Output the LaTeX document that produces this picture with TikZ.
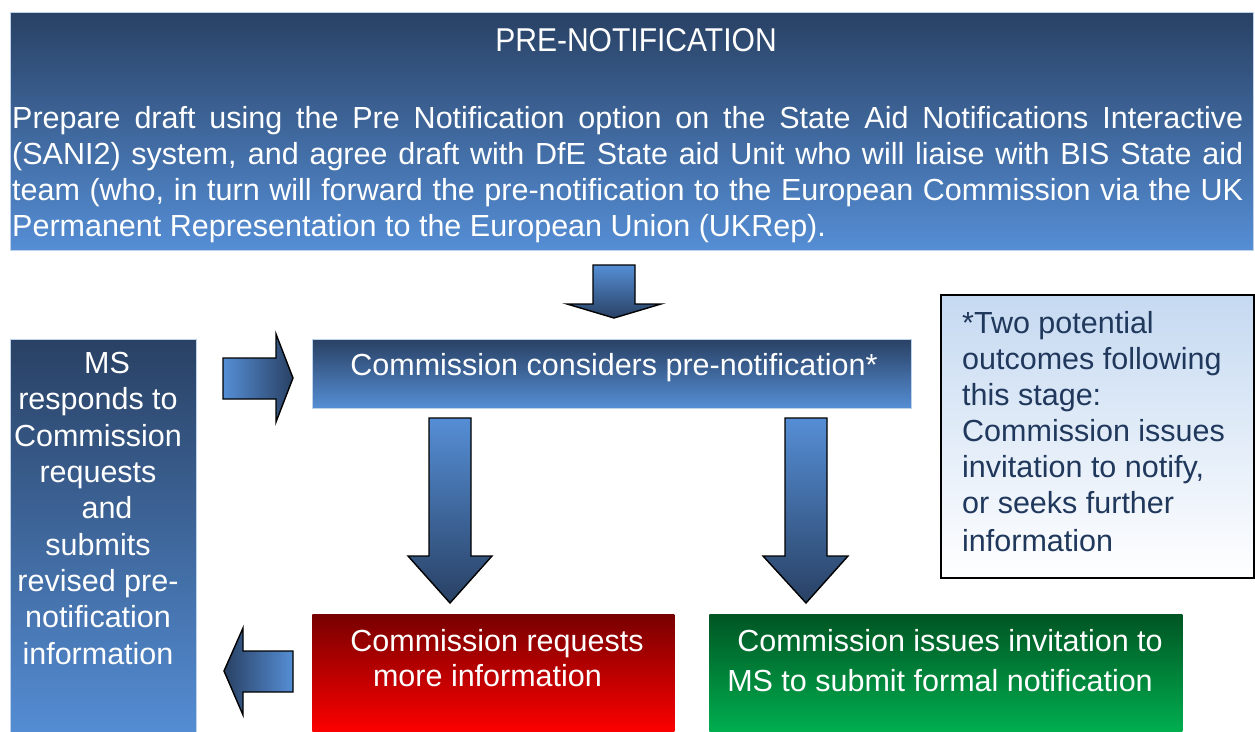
\documentclass[tikz,border=0pt]{standalone}
\usepackage{fontspec}
\setmainfont{Liberation Sans}
\newfontfamily\titlefont{Liberation Sans}[FakeStretch=0.91]
\definecolor{dkblue}{RGB}{41,65,100}
\definecolor{ltblue}{RGB}{85,142,213}
\definecolor{edgeblue}{RGB}{190,210,235}
\definecolor{dkred}{RGB}{120,0,0}
\definecolor{brred}{RGB}{255,0,0}
\definecolor{dkgreen}{RGB}{0,85,35}
\definecolor{brgreen}{RGB}{0,176,80}
\definecolor{paleblue}{RGB}{197,217,241}
\definecolor{notetext}{RGB}{31,56,92}
\tikzset{
  boxbase/.style={rectangle, anchor=north west, inner sep=0pt, draw=edgeblue, line width=0.6pt},
  bluebox/.style={boxbase, top color=dkblue, bottom color=ltblue},
  redbox/.style={boxbase, draw=none, top color=dkred, bottom color=brred},
  greenbox/.style={boxbase, draw=none, top color=dkgreen, bottom color=brgreen},
  notebox/.style={rectangle, anchor=north west, inner sep=0pt, draw=black, line width=1.8pt, top color=paleblue, bottom color=white},
  txt/.style={text=white, font=\fontsize{30.5}{36}\selectfont, inner sep=0pt},
  blockarrow/.style={draw=black, line width=1.4pt, line join=miter},
}
\begin{document}
\begin{tikzpicture}[x=1pt,y=-1pt]
\useasboundingbox (0,0) rectangle (1255,731);
% boxes
\node[bluebox, minimum width=1243pt, minimum height=238pt] (top) at (10,12) {};
\node[bluebox, minimum width=599pt, minimum height=69pt] (cons) at (312,339) {};
\node[bluebox, minimum width=186pt, minimum height=400pt] (ms) at (10,339) {};
\node[notebox, minimum width=313pt, minimum height=283pt] (note) at (940,294) {};
\node[redbox, minimum width=362pt, minimum height=120pt] (req) at (312,614) {};
\node[greenbox, minimum width=473pt, minimum height=120pt] (inv) at (709,614) {};
% texts (base anchor of multi-line nodes = baseline of last line)
\node[txt, anchor=base, font=\titlefont\fontsize{33}{36}\selectfont] (title) at (636,51) {PRE-NOTIFICATION};
\node[txt, anchor=base west, text width=1231pt, align=justify] (para) at (12,128)
 {Prepare draft using the Pre Notification option on the State Aid Notifications Interactive\linebreak
  (SANI2) system, and agree draft with DfE State aid Unit who will liaise with BIS State aid\linebreak
  team (who, in turn will forward the pre-notification to the European Commission via the UK\linebreak
  Permanent Representation to the European Union (UKRep).};
\node[txt, anchor=base] (constxt) at (614,375) {Commission considers pre-notification*};
\node[txt, anchor=base, align=center, font=\fontsize{30.5}{36.3}\selectfont] (mstxt) at (98,664)
 {\hspace*{18pt}MS\\responds to\\Commission\\requests\\\hspace*{18pt}and\\submits\\revised pre-\\notification\\information};
\node[txt, anchor=base west, align=left, text=notetext] (notetxt) at (962,551)
 {*Two potential\\outcomes following\\this stage:\\Commission issues\\invitation to notify,\\or seeks further\\[2pt]information};
\node[txt, anchor=base, align=center, font=\fontsize{30.5}{35}\selectfont] (reqtxt) at (494,686)
 {\hspace*{6pt}Commission requests\\more information\hspace*{13pt}};
\node[txt, anchor=base, align=center, font=\fontsize{30.5}{40}\selectfont] (invtxt) at (945,691)
 {\hspace*{10pt}Commission issues invitation to\\MS to submit formal notification\hspace*{10pt}};
% block arrows
\draw[blockarrow, top color=ltblue, bottom color=dkblue]
  (593,265) -- (635,265) -- (635,304) -- (661,304) -- (614,318) -- (567,304) -- (593,304) -- cycle;
\draw[blockarrow, left color=ltblue, right color=dkblue]
  (223,358) -- (276,358) -- (276,334) -- (293,378) -- (276,422) -- (276,399) -- (223,399) -- cycle;
\draw[blockarrow, left color=dkblue, right color=ltblue]
  (293,651) -- (243,651) -- (243,628) -- (224,671) -- (243,715) -- (243,692) -- (293,692) -- cycle;
\draw[blockarrow, top color=ltblue, bottom color=dkblue]
  (429,418) -- (471,418) -- (471,556) -- (492,556) -- (450,603) -- (408,556) -- (429,556) -- cycle;
\draw[blockarrow, top color=ltblue, bottom color=dkblue]
  (785,418) -- (827,418) -- (827,556) -- (848,556) -- (806,603) -- (763,556) -- (785,556) -- cycle;
\end{tikzpicture}
\end{document}
